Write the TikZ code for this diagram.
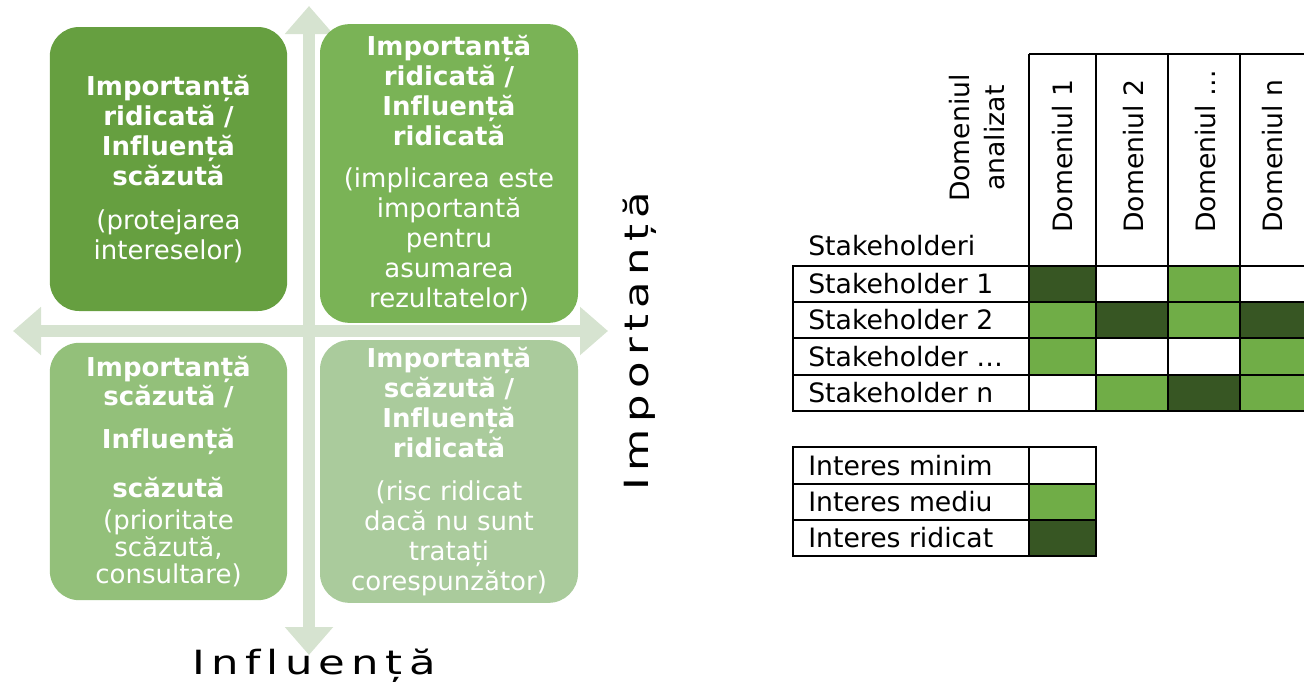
\documentclass[tikz,border=0pt]{standalone}
\usepackage{fontspec}
\setmainfont{DejaVu Sans}[Ligatures=NoCommon]
\newfontfamily\axisfont{DejaVu Sans}[Ligatures=NoCommon, FakeStretch=1.3, LetterSpace=19]
\usetikzlibrary{positioning, arrows.meta}
\definecolor{hiimplo}{HTML}{669F40}
\definecolor{hiimphi}{HTML}{7AB356}
\definecolor{loimplo}{HTML}{93C07A}
\definecolor{loimphi}{HTML}{AACB9C}
\definecolor{axisgreen}{HTML}{D6E3D0}
\definecolor{intmed}{HTML}{70AD47}
\definecolor{inthigh}{HTML}{375623}
\tikzset{
    quad/.style={rectangle, rounded corners=22pt, inner sep=0pt, text=white, align=center, font=\fontsize{19.5}{22.5}\selectfont},
    axisarrow/.style={draw=axisgreen, line width=9pt, arrows={Triangle[width=35pt,length=21pt]-Triangle[width=35pt,length=21pt]}},
    axislbl/.style={inner sep=0pt, font=\axisfont\fontsize{25}{29}\selectfont},
    grid/.style={draw=black, line width=2pt},
    rowlbl/.style={anchor=west, inner sep=0pt, font=\fontsize{20}{24}\selectfont},
    collbl/.style={rotate=90, anchor=west, inner sep=0pt, font=\fontsize{20}{24}\selectfont},
}
\begin{document}
\begin{tikzpicture}[x=0.75pt, y=-0.75pt]
    \useasboundingbox (0,0) rectangle (1304,682);
    \clip (0,0) rectangle (1304,682);
    % axes
    \coordinate (west) at (13,331);
    \coordinate (east) at (608,331);
    \coordinate (north) at (309,6);
    \coordinate (south) at (309,655);
    \draw[axisarrow] (west) -- (east);
    \draw[axisarrow] (south) -- (north);
    % quadrants
    \node [quad, fill=hiimplo, text width=165pt, minimum width=178pt, minimum height=213pt] (hilo) at (168.5,169)
        {{\bfseries Importanță\\ ridicată /\\ Influență\\ scăzută}\\[10pt] (protejarea\\ intereselor)};
    \node [quad, fill=hiimphi, text width=180pt, minimum width=193.5pt, minimum height=224pt] (hihi) at (449,173.5)
        {{\bfseries Importanță\\ ridicată /\\ Influență\\ ridicată}\\[9pt] (implicarea este\\ importantă\\ pentru\\ asumarea\\ rezultatelor)};
    \node [quad, fill=loimplo, text width=165pt, minimum width=178pt, minimum height=193pt] (lolo) at (168.5,471.5)
        {{\bfseries Importanță\\[-1pt] scăzută /\\[10pt] Influență\\[14pt] scăzută}\\[2pt] (prioritate\\[-2.5pt] scăzută,\\[-2.5pt] consultare)};
    \node [quad, fill=loimphi, text width=180pt, minimum width=193.5pt, minimum height=197pt] (lohi) at (449,471.5)
        {{\bfseries Importanță\\ scăzută /\\ Influență\\ ridicată}\\[10pt] (risc ridicat\\ dacă nu sunt\\ tratați\\ corespunzător)};
    \node [axislbl] (infl) at (314,666) {Influență};
    \node [axislbl, rotate=90] (imp) at (640,341) {Importanță};
    % interest matrix
    \foreach \xa/\xb/\ya/\yb/\c in {1029/1096/266/302/inthigh, 1168/1240/266/302/intmed,
        1029/1096/302/338/intmed, 1096/1168/302/338/inthigh, 1168/1240/302/338/intmed, 1240/1312/302/338/inthigh,
        1029/1096/338/375/intmed, 1240/1312/338/375/intmed,
        1096/1168/375/411/intmed, 1168/1240/375/411/inthigh, 1240/1312/375/411/intmed}
        \fill[\c] (\xa,\ya) rectangle (\xb,\yb);
    \draw[grid] (793,266) rectangle (1312,411);
    \foreach \y in {302,338,375}
        \draw[grid] (793,\y) -- (1312,\y);
    \foreach \x in {1029,1096,1168,1240}
        \draw[grid] (\x,54) -- (\x,411);
    \draw[grid] (1029,54) -- (1312,54);
    \node [collbl, anchor=center, align=center, font=\fontsize{20}{26}\selectfont] (domhead) at (977,138) {Domeniul\\analizat};
    \node [rowlbl, anchor=base west] (shhead) at (808,255) {Stakeholderi};
    \foreach \name/\txt/\x in {dom1/Domeniul 1/1063, dom2/Domeniul 2/1134, dom3/Domeniul …/1206, dom4/Domeniul n/1273}
        \node [collbl] (\name) at (\x,233) {\txt};
    \foreach \name/\txt/\y in {sh1/Stakeholder 1/284, sh2/Stakeholder 2/320, sh3/Stakeholder …/356.5, sh4/Stakeholder n/393}
        \node [rowlbl] (\name) at (808,\y) {\txt};
    % legend
    \fill[intmed] (1029,484) rectangle (1096,520);
    \fill[inthigh] (1029,520) rectangle (1096,556);
    \draw[grid] (793,447) rectangle (1096,556);
    \draw[grid] (793,484) -- (1096,484);
    \draw[grid] (793,520) -- (1096,520);
    \draw[grid] (1029,447) -- (1029,556);
    \foreach \name/\txt/\y in {lmin/Interes minim/465.5, lmed/Interes mediu/502, lhigh/Interes ridicat/538}
        \node [rowlbl] (\name) at (808,\y) {\txt};
\end{tikzpicture}
\end{document}
